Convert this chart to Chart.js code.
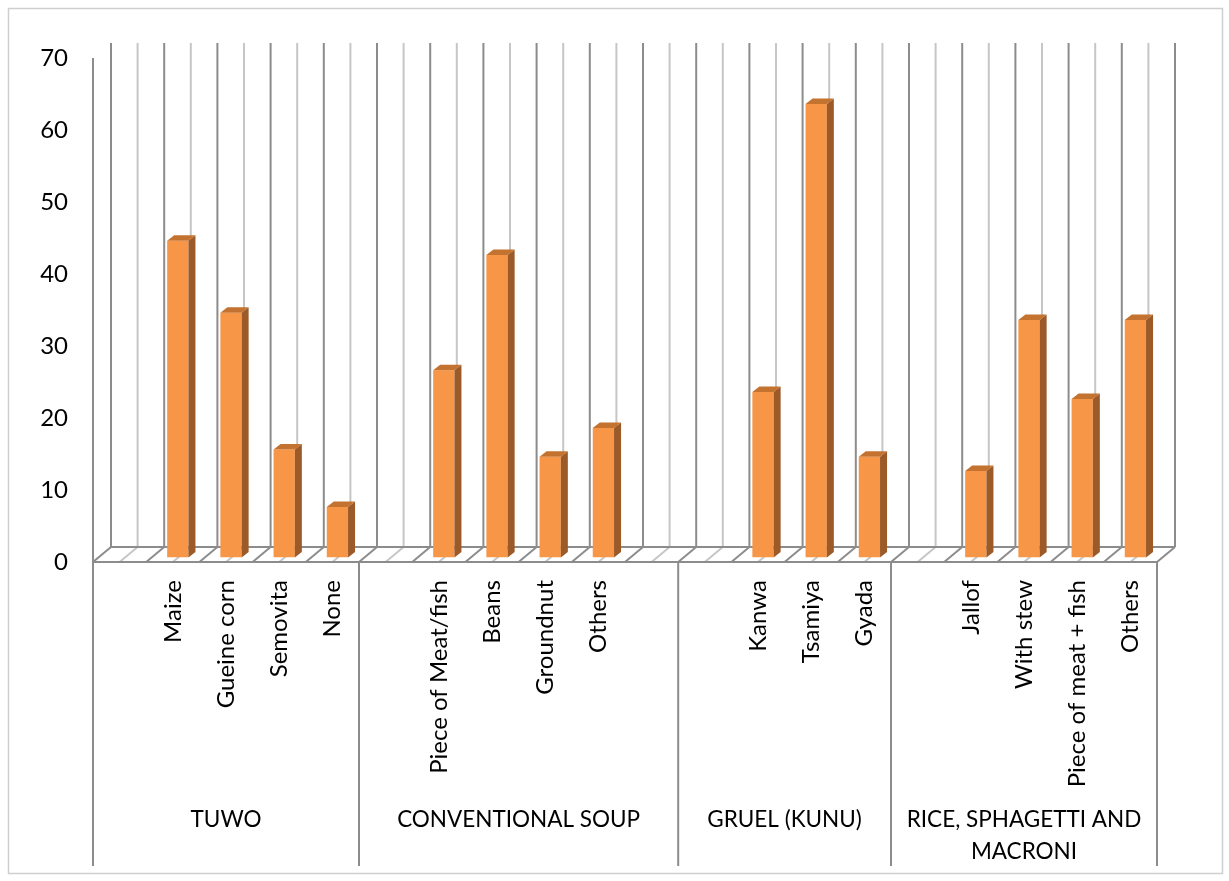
<!DOCTYPE html>
<html>
<head>
<meta charset="utf-8">
<title>Food choices by meal type</title>
<script src="https://cdn.jsdelivr.net/npm/chart.js@4.4.1/dist/chart.umd.min.js"></script>
<style>
  html, body { margin: 0; padding: 0; background: #ffffff; }
  #wrap { width: 1229px; height: 881px; position: relative; }
  canvas { display: block; }
</style>
</head>
<body>
<div id="wrap"><canvas id="chart" width="1229" height="881"></canvas></div>
<script>
// Meal groups, the slots each one spans on the category axis, and its items.
const groupNames = ['TUWO', 'CONVENTIONAL SOUP', 'GRUEL (KUNU)', ['RICE, SPHAGETTI AND', 'MACRONI']];
const groupSlots = [5, 6, 4, 5];

// Item labels per slot (empty strings are the spacer slots inside each group).
const itemLabels = [
  '', 'Maize', 'Gueine corn', 'Semovita', 'None',
  '', 'Piece of Meat/fish', 'Beans', 'Groundnut', 'Others', '',
  '', 'Kanwa', 'Tsamiya', 'Gyada',
  '', 'Jallof', 'With stew', 'Piece of meat + fish', 'Others'
];

// Percentage of respondents per item (null = spacer slot).
const itemValues = [
  null, 44, 34, 15, 7,
  null, 26, 42, 14, 18, null,
  null, 23, 63, 14,
  null, 12, 33, 22, 33
];

// Value axis range.
const yMin = 0;
const yMax = 70;
const yStep = 10;

const FONT = "Lato, 'Open Sans', sans-serif";
const FONT_SIZE = 24;
const GROUP_FONT_SIZE = 22.5;

// Oblique depth of the floor / back wall, and of each column.
const WALL_DX = 18, WALL_DY = -15;
const BAR_SHIFT_X = 5, BAR_SHIFT_Y = -4.5;
const BAR_DX = 7, BAR_DY = -5.5;

const GRID_DARK = '#8c8c8c';
const GRID_LIGHT = '#c6c6c6';

const frame3d = {
  id: 'frame3d',
  beforeDraw(chart) {
    const ctx = chart.ctx;
    ctx.save();
    ctx.fillStyle = '#ffffff';
    ctx.fillRect(0, 0, chart.width, chart.height);
    ctx.strokeStyle = '#cfcfcf';
    ctx.lineWidth = 1.5;
    ctx.strokeRect(8.5, 8.5, 1214, 865);
    ctx.restore();
  },
  beforeDatasetsDraw(chart) {
    const ctx = chart.ctx;
    const xs = chart.scales.x, ys = chart.scales.y;
    const n = itemLabels.length;
    const left = xs.left, right = xs.right;
    const half = (right - left) / n / 2;
    const y0 = ys.getPixelForValue(yMin);
    const yTop = ys.getPixelForValue(yMax);
    ctx.save();
    ctx.lineCap = 'butt';
    // back wall: vertical gridlines at slot edges (dark) and slot centres (light)
    for (let k = 0; k <= 2 * n; k++) {
      const xb = left + k * half + WALL_DX;
      ctx.strokeStyle = k % 2 === 0 ? GRID_DARK : GRID_LIGHT;
      ctx.lineWidth = 2;
      ctx.beginPath();
      ctx.moveTo(xb, yTop + WALL_DY);
      ctx.lineTo(xb, y0 + WALL_DY);
      ctx.stroke();
    }
    // floor: diagonals from front edge to back edge
    for (let k = 0; k <= 2 * n; k++) {
      const xf = left + k * half;
      ctx.strokeStyle = k % 2 === 0 ? GRID_DARK : GRID_LIGHT;
      ctx.lineWidth = 2;
      ctx.beginPath();
      ctx.moveTo(xf, y0);
      ctx.lineTo(xf + WALL_DX, y0 + WALL_DY);
      ctx.stroke();
    }
    ctx.strokeStyle = GRID_DARK;
    ctx.lineWidth = 2;
    ctx.beginPath();
    ctx.moveTo(left + WALL_DX, y0 + WALL_DY);
    ctx.lineTo(right + WALL_DX, y0 + WALL_DY);
    ctx.moveTo(left, y0);
    ctx.lineTo(right, y0);
    ctx.stroke();
    ctx.restore();

    // columns sit partway into the depth of the floor
    ctx.save();
    ctx.translate(BAR_SHIFT_X, BAR_SHIFT_Y);
  },
  afterDatasetsDraw(chart) {
    const ctx = chart.ctx;
    const meta = chart.getDatasetMeta(0);
    meta.data.forEach((bar, i) => {
      if (itemValues[i] === null || itemValues[i] === undefined) return;
      const p = bar.getProps(['x', 'y', 'base', 'width'], true);
      const l = p.x - p.width / 2, r = p.x + p.width / 2;
      // right side face
      ctx.fillStyle = '#9c5a28';
      ctx.beginPath();
      ctx.moveTo(r, p.y);
      ctx.lineTo(r + BAR_DX, p.y + BAR_DY);
      ctx.lineTo(r + BAR_DX, p.base + BAR_DY);
      ctx.lineTo(r, p.base);
      ctx.closePath();
      ctx.fill();
      // top face
      ctx.fillStyle = '#c4722f';
      ctx.beginPath();
      ctx.moveTo(l, p.y);
      ctx.lineTo(l + BAR_DX, p.y + BAR_DY);
      ctx.lineTo(r + BAR_DX, p.y + BAR_DY);
      ctx.lineTo(r, p.y);
      ctx.closePath();
      ctx.fill();
    });
    ctx.restore();
  },
  afterDraw(chart) {
    const ctx = chart.ctx;
    const xs = chart.scales.x, ys = chart.scales.y;
    const n = itemLabels.length;
    const slot = (xs.right - xs.left) / n;
    const y0 = ys.getPixelForValue(yMin);
    const yTop = ys.getPixelForValue(yMax);
    const boxBottom = 866;
    ctx.save();
    // value axis line
    ctx.strokeStyle = GRID_DARK;
    ctx.lineWidth = 2;
    ctx.beginPath();
    ctx.moveTo(xs.left, yTop);
    ctx.lineTo(xs.left, y0);
    ctx.stroke();
    // group separators on the category axis
    let start = 0;
    const edges = [0];
    groupSlots.forEach(s => { start += s; edges.push(start); });
    ctx.beginPath();
    edges.forEach(e => {
      const x = xs.left + e * slot;
      ctx.moveTo(x, y0);
      ctx.lineTo(x, boxBottom);
    });
    ctx.stroke();
    // group names
    ctx.fillStyle = '#000000';
    ctx.font = GROUP_FONT_SIZE + 'px ' + FONT;
    ctx.textAlign = 'center';
    ctx.textBaseline = 'middle';
    groupNames.forEach((name, g) => {
      const cx = xs.left + (edges[g] + edges[g + 1]) / 2 * slot;
      const lines = Array.isArray(name) ? name : [name];
      lines.forEach((t, j) => ctx.fillText(t, cx, 820 + j * 32));
    });
    ctx.restore();
  }
};

new Chart(document.getElementById('chart'), {
  type: 'bar',
  data: {
    labels: itemLabels,
    datasets: [{
      data: itemValues,
      backgroundColor: '#f79646',
      borderWidth: 0,
      barPercentage: 0.4,
      categoryPercentage: 1.0
    }]
  },
  options: {
    responsive: false,
    devicePixelRatio: 1,
    animation: false,
    events: [],
    layout: { padding: { top: 58, right: 72, left: 0, bottom: 0 } },
    plugins: { legend: { display: false }, tooltip: { enabled: false } },
    scales: {
      x: {
        type: 'category',
        offset: true,
        grid: { display: false, drawTicks: false },
        border: { display: false },
        ticks: {
          autoSkip: false,
          maxRotation: 90,
          minRotation: 90,
          padding: 18,
          color: '#000000',
          font: { family: FONT, size: FONT_SIZE }
        },
        afterFit(scale) { scale.height = 319; }
      },
      y: {
        min: yMin,
        max: yMax,
        grid: { display: false, drawTicks: false },
        border: { display: false },
        ticks: {
          stepSize: yStep,
          padding: 25,
          color: '#000000',
          font: { family: FONT, size: FONT_SIZE }
        },
        afterFit(scale) { scale.width = 93; }
      }
    }
  },
  plugins: [frame3d]
});
</script>
</body>
</html>
